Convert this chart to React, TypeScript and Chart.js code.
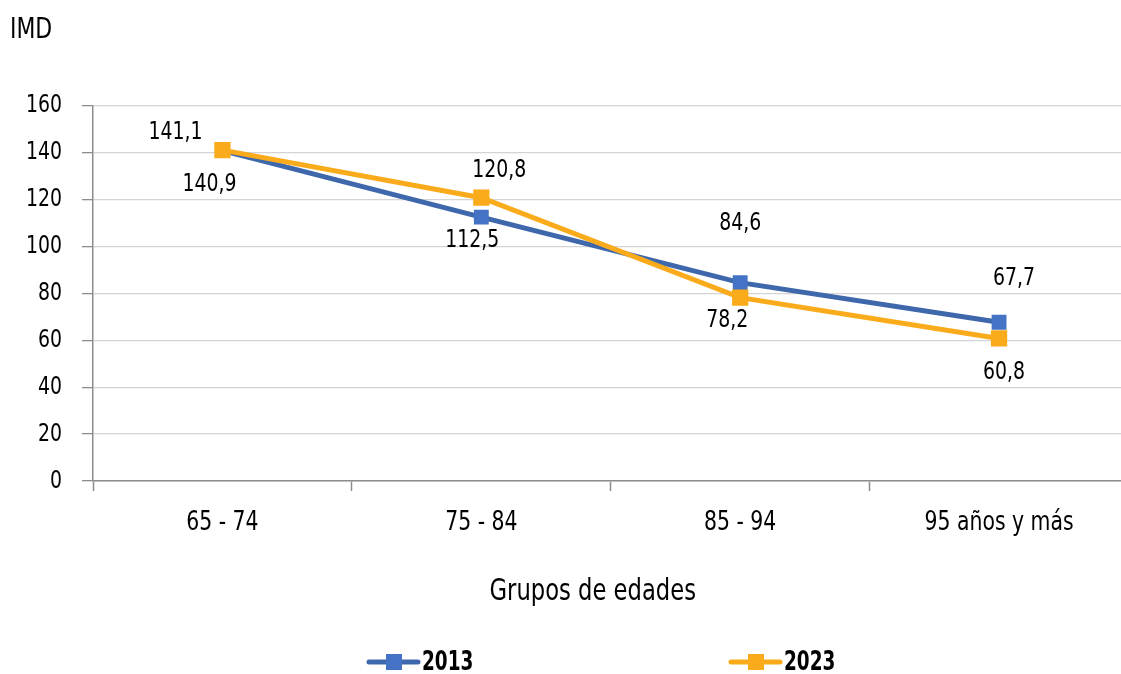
import React, { useEffect, useRef } from 'react';
import { Chart, registerables } from 'chart.js';

Chart.register(...registerables);

const categories = ['65 - 74', '75 - 84', '85 - 94', '95 años y más'];
const series2013 = [140.9, 112.5, 84.6, 67.7];
const series2023 = [141.1, 120.8, 78.2, 60.8];
const seriesNames = ['2013', '2023'];
const yMin = 0;
const yMax = 160;
const yStep = 20;
const xTitle = 'Grupos de edades';
const yTitle = 'IMD';

// label offsets (px) relative to each point, as placed in the original
const labelOffsets2013 = [[-13, 34], [-9, 23], [0, -59], [15, -44]];
const labelOffsets2023 = [[-47, -18], [18, -27], [-13, 23], [5, 34]];

const FONT = "'DejaVu Sans Condensed', 'Liberation Sans Narrow', sans-serif";
const TEXT_SCALE_X = 0.84;
const BLUE_LINE = '#3F68AC';
const BLUE_MARK = '#4472C4';
const ORANGE = '#F9AB1B';

const fmt = (v: number) => v.toFixed(1).replace('.', ',');

const dataLabelPlugin = {
  id: 'dataLabels',
  afterDatasetsDraw(chart: any) {
    const ctx = chart.ctx;
    ctx.save();
    ctx.font = `25px ${FONT}`;
    ctx.fillStyle = '#000';
    ctx.textAlign = 'center';
    ctx.textBaseline = 'middle';
    chart.data.datasets.forEach((ds: any, i: number) => {
      const meta = chart.getDatasetMeta(i);
      const offs = ds.labelOffsets as number[][];
      meta.data.forEach((el: any, j: number) => {
        const [dx, dy] = offs[j];
        ctx.fillText(fmt(ds.data[j]), el.x + dx, el.y + dy);
      });
    });
    ctx.restore();
  },
};

const xTitlePlugin = {
  id: 'xTitle',
  afterDraw(chart: any) {
    const ctx = chart.ctx;
    const area = chart.chartArea;
    ctx.save();
    ctx.font = `30px ${FONT}`;
    ctx.fillStyle = '#000';
    ctx.textAlign = 'center';
    ctx.textBaseline = 'middle';
    ctx.fillText(xTitle, (area.left + area.right) / 2 - 18, area.bottom + 111);
    ctx.restore();
  },
};

const legendPlugin = {
  id: 'customLegend',
  afterDraw(chart: any) {
    const ctx = chart.ctx;
    const y = 662;
    const starts = [366, 728];
    ctx.save();
    chart.data.datasets.forEach((ds: any, i: number) => {
      const x0 = starts[i];
      ctx.strokeStyle = ds.borderColor;
      ctx.lineWidth = 5;
      ctx.lineCap = 'round';
      ctx.beginPath();
      ctx.moveTo(x0 + 3, y);
      ctx.lineTo(x0 + 52, y);
      ctx.stroke();
      ctx.fillStyle = ds.pointBackgroundColor;
      ctx.fillRect(x0 + 20, y - 8, 16, 16);
      ctx.fillStyle = '#000';
      ctx.font = `bold 27px ${FONT}`;
      ctx.textAlign = 'left';
      ctx.textBaseline = 'middle';
      ctx.__sx = 0.76;
      ctx.fillText(ds.label, x0 + 56, y + 1);
      ctx.__sx = undefined;
    });
    ctx.restore();
  },
};

export default function App() {
  const ref = useRef<HTMLCanvasElement | null>(null);

  useEffect(() => {
    if (!ref.current) return;
    const ctx: any = ref.current.getContext('2d');
    if (ctx && !ctx.__patched) {
      const orig = ctx.fillText.bind(ctx);
      ctx.fillText = (text: string, x: number, y: number, maxWidth?: number) => {
        const sx = ctx.__sx ?? TEXT_SCALE_X;
        ctx.save();
        ctx.translate(x, y);
        ctx.scale(sx, 1);
        if (maxWidth !== undefined) orig(text, 0, 0, maxWidth / sx);
        else orig(text, 0, 0);
        ctx.restore();
      };
      ctx.__patched = true;
    }
    const chart = new Chart(ref.current, {
      type: 'line',
      data: {
        labels: categories,
        datasets: [
          {
            label: seriesNames[0],
            data: series2013,
            borderColor: BLUE_LINE,
            backgroundColor: BLUE_MARK,
            pointBackgroundColor: BLUE_MARK,
            pointBorderWidth: 0,
            borderWidth: 5,
            pointStyle: 'rect',
            pointRadius: 10.5,
            tension: 0,
            order: 1,
            labelOffsets: labelOffsets2013,
          } as any,
          {
            label: seriesNames[1],
            data: series2023,
            borderColor: ORANGE,
            backgroundColor: ORANGE,
            pointBackgroundColor: ORANGE,
            pointBorderWidth: 0,
            borderWidth: 5,
            pointStyle: 'rect',
            pointRadius: 11.5,
            tension: 0,
            order: 0,
            labelOffsets: labelOffsets2023,
          } as any,
        ],
      },
      options: {
        responsive: false,
        animation: false,
        layout: { padding: { left: 10, right: 7, top: 0, bottom: 33 } },
        plugins: {
          legend: { display: false },
          tooltip: { enabled: false },
          title: {
            display: true,
            text: yTitle,
            align: 'start',
            color: '#000',
            font: { family: FONT, size: 29, weight: 'normal' },
            padding: { top: 13, bottom: 58 },
          },
        },
        scales: {
          x: {
            type: 'category',
            offset: true,
            grid: {
              offset: true,
              drawOnChartArea: false,
              drawTicks: true,
              tickLength: 10,
              tickColor: '#8c8c8c',
              tickWidth: 1.5,
            },
            border: { color: '#8c8c8c', width: 1.5 },
            ticks: { color: '#000', font: { family: FONT, size: 27 }, padding: 16, maxRotation: 0, autoSkip: false },
            title: { display: false },
            afterFit: (s: any) => {
              s.height = 160;
            },
          },
          y: {
            min: yMin,
            max: yMax,
            ticks: { stepSize: yStep, color: '#000', font: { family: FONT, size: 25 }, padding: 20 },
            grid: { color: '#d4d4d4', lineWidth: 1.3, tickLength: 11, tickColor: '#8c8c8c' },
            border: { color: '#8c8c8c', width: 1.5 },
            afterFit: (s: any) => {
              s.width = 83;
            },
          },
        },
      },
      plugins: [dataLabelPlugin, xTitlePlugin, legendPlugin],
    });
    return () => chart.destroy();
  }, []);

  return (
    <div style={{ position: 'absolute', left: 0, top: 0, width: 1121, height: 674, overflow: 'hidden', background: '#fff' }}>
      <canvas ref={ref} width={1140} height={674} style={{ display: 'block' }} />
    </div>
  );
}
